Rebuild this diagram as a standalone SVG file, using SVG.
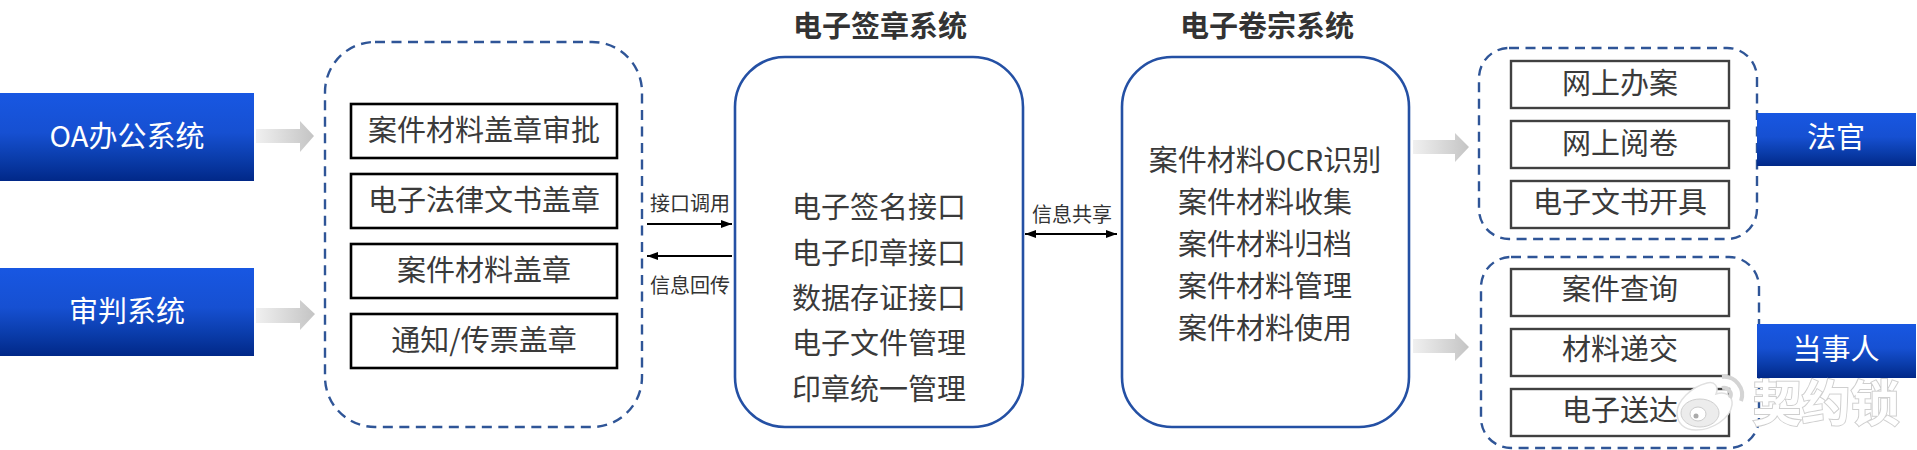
<svg xmlns="http://www.w3.org/2000/svg" width="1917" height="450" viewBox="0 0 1917 450">
<style>
text{font-family:"Noto Sans CJK SC","Liberation Sans",sans-serif;text-anchor:middle;fill:#3a3a3a}
.b{font-size:29px}
.w{font-size:29px;fill:#fff}
.t{font-size:29px;font-weight:700;fill:#333}
.s{font-size:20px;fill:#333}
.blue{fill:url(#bg)}
.dash{fill:#fff;stroke:#2f5597;stroke-width:2.4;stroke-dasharray:10 6.5}
.solid{fill:#fff;stroke:#2450a4;stroke-width:2.6}
.k{fill:#fff;stroke:#000;stroke-width:2.6}
.g{fill:#fff;stroke:#404040;stroke-width:2.4}
.line{stroke:#000;stroke-width:2;fill:none}
.wm{font-size:49px;font-weight:700;fill:#fff;stroke:#cfcfcf;stroke-width:2;paint-order:stroke}
</style>
<defs>
<linearGradient id="bg" x1="0" y1="0" x2="0" y2="1"><stop offset="0" stop-color="#1857e2"/><stop offset=".45" stop-color="#1650d2"/><stop offset=".75" stop-color="#0a3caa"/><stop offset="1" stop-color="#012888"/></linearGradient>
<linearGradient id="ga" x1="0" y1="0" x2="1" y2="0"><stop offset="0" stop-color="#f0f0f0"/><stop offset="1" stop-color="#c4c4c4"/></linearGradient>
<marker id="ah" viewBox="0 0 11 8" refX="11" refY="4" markerWidth="11" markerHeight="8" markerUnits="userSpaceOnUse" orient="auto-start-reverse"><path d="M0 0L11 4L0 8z" fill="#000"/></marker>
</defs>
<rect width="1917" height="450" fill="#fff"/>

<g id="node-oa"><rect class="blue" x="0" y="93" width="254" height="88"/><text class="w" x="127" y="147">OA办公系统</text></g>
<g id="node-trial"><rect class="blue" x="0" y="268" width="254" height="88"/><text class="w" x="127" y="322">审判系统</text></g>

<g id="node-seal-group">
<rect class="dash" x="325" y="42" width="317" height="385" rx="50" ry="50"/>
<g id="seal-1"><rect class="k" x="351" y="104" width="266" height="54"/><text class="b" x="484" y="141">案件材料盖章审批</text></g>
<g id="seal-2"><rect class="k" x="351" y="174" width="266" height="54"/><text class="b" x="484" y="211">电子法律文书盖章</text></g>
<g id="seal-3"><rect class="k" x="351" y="244" width="266" height="54"/><text class="b" x="484" y="281">案件材料盖章</text></g>
<g id="seal-4"><rect class="k" x="351" y="314" width="266" height="54"/><text class="b" x="484" y="351">通知/传票盖章</text></g>
</g>

<g id="node-esign">
<text class="t" x="880" y="37">电子签章系统</text>
<rect class="solid" x="735" y="57" width="288" height="370" rx="50" ry="50"/>
<text class="b" x="879" y="218">电子签名接口</text>
<text class="b" x="879" y="264">电子印章接口</text>
<text class="b" x="879" y="309">数据存证接口</text>
<text class="b" x="879" y="354">电子文件管理</text>
<text class="b" x="879" y="400">印章统一管理</text>
</g>

<g id="node-archive">
<text class="t" x="1267" y="37">电子卷宗系统</text>
<rect class="solid" x="1122" y="57" width="287" height="370" rx="50" ry="50"/>
<text class="b" x="1265" y="171">案件材料OCR识别</text>
<text class="b" x="1265" y="213">案件材料收集</text>
<text class="b" x="1265" y="255">案件材料归档</text>
<text class="b" x="1265" y="297">案件材料管理</text>
<text class="b" x="1265" y="339">案件材料使用</text>
</g>

<g id="node-judge-group">
<rect class="dash" x="1479" y="48" width="278" height="191" rx="30" ry="30"/>
<g id="judge-1"><rect class="g" x="1511" y="61" width="218" height="47"/><text class="b" x="1620" y="94">网上办案</text></g>
<g id="judge-2"><rect class="g" x="1511" y="121" width="218" height="47"/><text class="b" x="1620" y="154">网上阅卷</text></g>
<g id="judge-3"><rect class="g" x="1511" y="181" width="218" height="47"/><text class="b" x="1620" y="213">电子文书开具</text></g>
</g>
<g id="node-party-group">
<rect class="dash" x="1481" y="257" width="278" height="191" rx="30" ry="30"/>
<g id="party-1"><rect class="g" x="1511" y="269" width="218" height="47"/><text class="b" x="1620" y="300">案件查询</text></g>
<g id="party-2"><rect class="g" x="1511" y="329" width="218" height="47"/><text class="b" x="1620" y="360">材料递交</text></g>
<g id="party-3"><rect class="g" x="1511" y="389" width="218" height="47"/><text class="b" x="1620" y="421">电子送达</text></g>
</g>

<g id="node-judge"><rect class="blue" x="1757" y="113" width="159" height="53"/><text class="w" x="1836" y="148">法官</text></g>
<g id="node-party"><rect class="blue" x="1757" y="324" width="159" height="54"/><text class="w" x="1836" y="360">当事人</text></g>

<g id="connectors">
<polygon fill="url(#ga)" points="256,129 300,129 300,121 314,136 300,152 300,143 256,143"/>
<polygon fill="url(#ga)" points="256,308 300,308 300,300 315,314 300,330 300,323 256,323"/>
<polygon fill="url(#ga)" points="1413,140 1455,140 1455,133 1469,147 1455,162 1455,154 1413,154"/>
<polygon fill="url(#ga)" points="1413,339 1455,339 1455,333 1469,347 1455,361 1455,353 1413,353"/>
<line class="line" x1="647" y1="224" x2="732" y2="224" marker-end="url(#ah)"/>
<line class="line" x1="732" y1="256" x2="647" y2="256" marker-end="url(#ah)"/>
<line class="line" x1="1025" y1="234" x2="1117" y2="234" marker-start="url(#ah)" marker-end="url(#ah)"/>
<text class="s" x="690" y="211">接口调用</text>
<text class="s" x="690" y="293">信息回传</text>
<text class="s" x="1072" y="222">信息共享</text>
</g>

<g id="watermark">
<path d="M1677 413c0-12 14-26 30-30 8-2 12 4 9 11 10-3 17 2 16 11-2 14-20 25-36 25-12 0-19-7-19-17z" fill="#fff" stroke="#e0e0e0" stroke-width="1.5"/>
<ellipse cx="1700" cy="413" rx="19" ry="14" fill="#ececec" stroke="#cfcfcf"/>
<ellipse cx="1698" cy="414" rx="8" ry="7" fill="#fff" stroke="#ccc"/>
<circle cx="1696" cy="416" r="2.5" fill="#aaa"/>
<path d="M1722 377a18 18 0 0 1 19 24M1722 388a7 7 0 0 1 8 10" fill="none" stroke="#d4d4d4" stroke-width="4"/>
<text class="wm" x="1826" y="421">契约锁</text>
</g>
</svg>
